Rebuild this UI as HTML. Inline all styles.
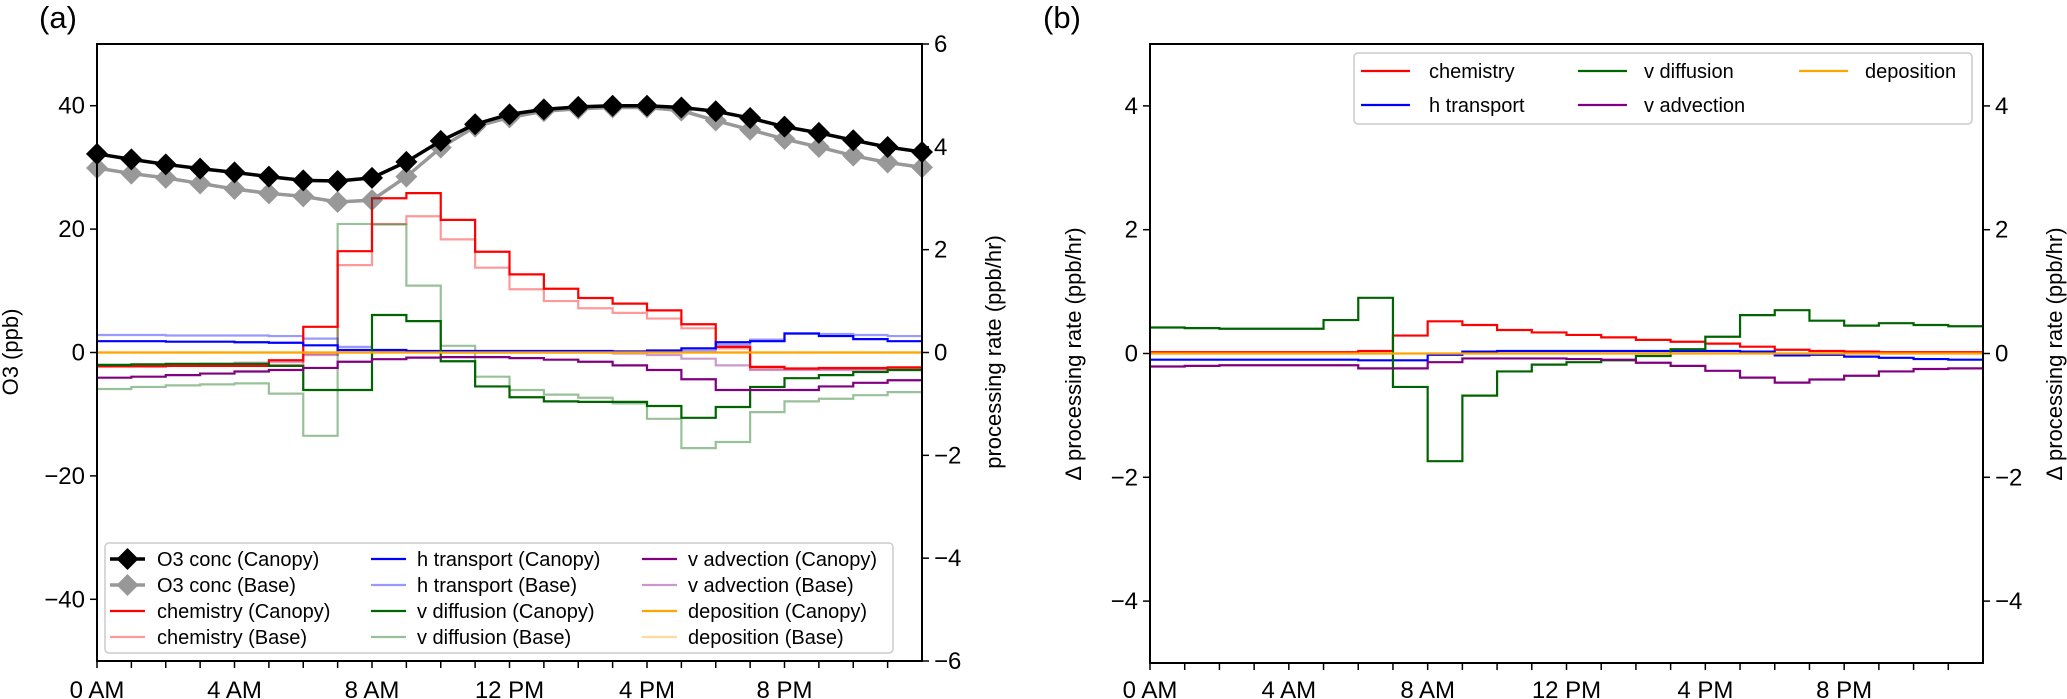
<!DOCTYPE html>
<html><head><meta charset="utf-8"><style>
html,body{margin:0;padding:0;background:#fff;}
svg{display:block;font-family:"Liberation Sans","DejaVu Sans",sans-serif;}
</style></head><body>
<svg id="fig" width="2067" height="699" viewBox="0 0 2067 699" xmlns="http://www.w3.org/2000/svg"></svg>
<script>
// ---------- Data ----------
const hours = [0,1,2,3,4,5,6,7,8,9,10,11,12,13,14,15,16,17,18,19,20,21,22,23,24];
const xTickLabels = ["0 AM","4 AM","8 AM","12 PM","4 PM","8 PM"];
const leftTicksA = [-40,-20,0,20,40];
const rightTicksA = [-6,-4,-2,0,2,4,6];
const ticksB = [-4,-2,0,2,4];

const o3Canopy = [32.2,31.3,30.5,29.8,29.2,28.5,27.9,27.8,28.3,30.9,34.3,37.0,38.6,39.4,39.8,40.0,40.0,39.7,39.1,38.0,36.6,35.6,34.4,33.3,32.5];
const o3Base   = [29.9,29.0,28.3,27.4,26.5,25.8,25.3,24.4,24.7,28.5,33.2,36.6,38.1,39.1,39.5,39.7,39.7,39.2,37.6,36.1,34.6,33.3,31.9,30.8,30.0];

const chemCanopy = [-0.27,-0.27,-0.26,-0.26,-0.26,-0.15,0.50,1.97,3.0,3.1,2.58,1.96,1.52,1.24,1.06,0.95,0.82,0.55,0.11,-0.28,-0.31,-0.30,-0.30,-0.29];
const chemBase   = [-0.26,-0.26,-0.25,-0.25,-0.25,-0.24,-0.02,1.7,2.5,2.65,2.2,1.65,1.23,1.0,0.86,0.77,0.66,0.47,0.08,-0.31,-0.32,-0.32,-0.32,-0.32];
const htCanopy = [0.22,0.22,0.21,0.21,0.2,0.19,0.14,0.05,0.05,0.03,0.03,0.03,0.03,0.03,0.03,0.02,0.04,0.08,0.2,0.22,0.37,0.32,0.26,0.22];
const htBase   = [0.34,0.34,0.33,0.33,0.33,0.32,0.27,0.11,0.03,0.02,0.02,0.02,0.02,0.02,0.02,0.02,0.02,0.03,0.15,0.25,0.37,0.36,0.34,0.32];
const vdCanopy = [-0.24,-0.23,-0.22,-0.22,-0.22,-0.26,-0.73,-0.73,0.73,0.61,-0.17,-0.66,-0.87,-0.95,-0.96,-0.96,-1.04,-1.27,-1.06,-0.67,-0.5,-0.44,-0.38,-0.34];
const vdBase   = [-0.71,-0.67,-0.64,-0.62,-0.6,-0.8,-1.62,2.5,2.49,1.3,0.13,-0.47,-0.73,-0.82,-0.88,-0.99,-1.29,-1.86,-1.74,-1.16,-0.95,-0.9,-0.83,-0.77];
const vaCanopy = [-0.49,-0.47,-0.44,-0.41,-0.37,-0.34,-0.3,-0.18,-0.13,-0.1,-0.09,-0.09,-0.11,-0.14,-0.18,-0.25,-0.34,-0.52,-0.73,-0.73,-0.73,-0.66,-0.59,-0.54];
const vaBase   = [-0.27,-0.25,-0.24,-0.22,-0.2,-0.18,-0.05,0.03,0.02,0.01,0.0,0.0,0.0,0.0,0.0,-0.02,-0.05,-0.12,-0.25,-0.34,-0.34,-0.34,-0.34,-0.34];
const depCanopy = [0,0,0,0,0,0,0,0,0,0,0,0,0,0,0,0,0,0,0,0,0,0,0,0];
const depBase   = [0,0,0,0,0,0,0,0,0,0,0,0,0,0,0,0,0,0,0,0,0,0,0,0];

const dChem = [0.02,0.02,0.02,0.02,0.02,0.02,0.04,0.29,0.52,0.46,0.38,0.34,0.30,0.26,0.22,0.19,0.16,0.11,0.06,0.04,0.03,0.02,0.02,0.02];
const dHt   = [-0.1,-0.1,-0.1,-0.1,-0.1,-0.1,-0.11,-0.11,-0.02,0.03,0.04,0.04,0.04,0.04,0.04,0.04,0.04,0.03,-0.03,-0.02,-0.05,-0.07,-0.09,-0.1];
const dVd   = [0.42,0.41,0.40,0.40,0.40,0.54,0.9,-0.54,-1.74,-0.68,-0.29,-0.18,-0.14,-0.11,-0.04,0.07,0.27,0.62,0.7,0.53,0.45,0.49,0.46,0.44];
const dVa   = [-0.21,-0.2,-0.19,-0.19,-0.19,-0.19,-0.24,-0.24,-0.14,-0.08,-0.08,-0.08,-0.09,-0.1,-0.15,-0.2,-0.28,-0.39,-0.47,-0.42,-0.36,-0.29,-0.25,-0.24];
const dDep  = [0,0,0,0,0,0,0,0,0,0,0,0,0,0,0,0,0,0,0,0,0,0,0,0];

// ---------- Helpers ----------
const NS = "http://www.w3.org/2000/svg";
const svg = document.getElementById("fig");
function mk(tag, attrs, parent) {
  const e = document.createElementNS(NS, tag);
  for (const k in attrs) e.setAttribute(k, attrs[k]);
  (parent || svg).appendChild(e);
  return e;
}
function txt(s, attrs, parent) { const e = mk("text", attrs, parent); e.textContent = s; return e; }

const A = {x0:97, x1:922, y0:44, y1:661};
const B = {x0:1150, x1:1983, y0:44, y1:663};
const xA = h => A.x0 + (A.x1 - A.x0) * h / 24;
const xB = h => B.x0 + (B.x1 - B.x0) * h / 24;
const yAL = v => A.y0 + (A.y1 - A.y0) * (50 - v) / 100;
const yAR = v => A.y0 + (A.y1 - A.y0) * (6 - v) / 12;
const yB = v => B.y0 + (B.y1 - B.y0) * (5 - v) / 10;
const TF = 24, LF = 20, AF = 22;

function stepPath(vals, xf, yf) {
  let d = "";
  for (let i = 0; i < vals.length; i++) {
    const y = yf(vals[i]);
    d += (i === 0 ? "M" : "L") + xf(i) + "," + y + "L" + xf(i + 1) + "," + y;
  }
  return d;
}

// ---------- Panel A ----------
const gA = mk("g", {});



const steps = [
  [chemBase, "#ff0000", 0.4, "chemistry-base-line"],
  [htBase, "#0000ff", 0.4, "h-transport-base-line"],
  [vdBase, "#006400", 0.4, "v-diffusion-base-line"],
  [vaBase, "#800080", 0.4, "v-advection-base-line"],
  [depBase, "#ffa500", 0.4, "deposition-base-line"],
  [chemCanopy, "#ff0000", 1, "chemistry-canopy-line"],
  [htCanopy, "#0000ff", 1, "h-transport-canopy-line"],
  [vdCanopy, "#006400", 1, "v-diffusion-canopy-line"],
  [vaCanopy, "#800080", 1, "v-advection-canopy-line"],
  [depCanopy, "#ffa500", 1, "deposition-canopy-line"]
];
steps.forEach(s => {
  const p = mk("path", {d: stepPath(s[0], xA, yAR), fill: "none", stroke: s[1], "stroke-opacity": s[2], "stroke-width": 2.2}, gA);
  
  
});

function o3Series(vals, color, op, name) {
  const g = mk("g", {opacity: op}, gA);
  
  
  let d = "";
  vals.forEach((v, i) => { d += (i ? "L" : "M") + xA(hours[i]) + "," + yAL(v); });
  mk("path", {d: d, fill: "none", stroke: color, "stroke-width": 3.5}, g);
  vals.forEach((v, i) => {
    const cx = xA(hours[i]), cy = yAL(v), r = 11;
    const m = mk("path", {d: `M${cx},${cy - r}L${cx + r},${cy}L${cx},${cy + r}L${cx - r},${cy}Z`, fill: color}, g);
    
    
  });
}
o3Series(o3Base, "#444", 0.55, "o3-base-series");
o3Series(o3Canopy, "#000", 1, "o3-canopy-series");

const frA = mk("rect", {x: A.x0, y: A.y0, width: A.x1 - A.x0, height: A.y1 - A.y0, fill: "none", stroke: "#000", "stroke-width": 2}, gA);



for (let h = 0; h <= 23; h++) {
  mk("line", {x1: xA(h), x2: xA(h), y1: A.y1, y2: A.y1 + 7, stroke: "#000", "stroke-width": 1.5}, gA);
}
xTickLabels.forEach((s, i) => {
  const t = txt(s, {x: xA(i * 4), y: 698, "font-size": TF, "text-anchor": "middle"}, gA);
  
  
});
leftTicksA.forEach(v => {
  mk("line", {x1: A.x0 - 7, x2: A.x0, y1: yAL(v), y2: yAL(v), stroke: "#000", "stroke-width": 1.5}, gA);
  const t = txt(v < 0 ? "\u2212" + (-v) : String(v), {x: A.x0 - 12, y: yAL(v) + 8, "font-size": TF, "text-anchor": "end"}, gA);
  
  
});
rightTicksA.forEach(v => {
  mk("line", {x1: A.x1, x2: A.x1 + 7, y1: yAR(v), y2: yAR(v), stroke: "#000", "stroke-width": 1.5}, gA);
  const t = txt(v < 0 ? "\u2212" + (-v) : String(v), {x: A.x1 + 12, y: yAR(v) + 8, "font-size": TF}, gA);
  
  
});
const yl = txt("O3 (ppb)", {x: 0, y: 0, "font-size": AF, "text-anchor": "middle", transform: `translate(18,352) rotate(-90)`}, gA);


const yr = txt("processing rate (ppb/hr)", {x: 0, y: 0, "font-size": AF, "text-anchor": "middle", transform: `translate(1001,352) rotate(-90)`}, gA);


const la = txt("(a)", {x: 39, y: 28, "font-size": 31}, gA);



const legA = mk("g", {}, gA);


mk("rect", {x: 105, y: 543, width: 788, height: 110, rx: 4, fill: "#fff", "fill-opacity": 0.85, stroke: "#ccc", "stroke-width": 1.5}, legA);
const legItemsA = [
  ["O3 conc (Canopy)", "#000", 1, true], ["O3 conc (Base)", "#444", 0.55, true],
  ["chemistry (Canopy)", "#ff0000", 1], ["chemistry (Base)", "#ff0000", 0.4],
  ["h transport (Canopy)", "#0000ff", 1], ["h transport (Base)", "#0000ff", 0.4],
  ["v diffusion (Canopy)", "#006400", 1], ["v diffusion (Base)", "#006400", 0.4],
  ["v advection (Canopy)", "#800080", 1], ["v advection (Base)", "#800080", 0.4],
  ["deposition (Canopy)", "#ffa500", 1], ["deposition (Base)", "#ffa500", 0.4]
];
const colLX = [110, 371, 642], colTX = [157, 417, 688], rowY = [559, 585, 611, 637];
legItemsA.forEach((it, i) => {
  const c = Math.floor(i / 4), r = i % 4;
  const g = mk("g", {opacity: it[2]}, legA);
  
  
  const y = rowY[r];
  mk("line", {x1: colLX[c], x2: colLX[c] + 35, y1: y, y2: y, stroke: it[1], "stroke-width": it[3] ? 3.5 : 2.2}, g);
  if (it[3]) {
    const cx = colLX[c] + 17.5, rr = 11;
    mk("path", {d: `M${cx},${y - rr}L${cx + rr},${y}L${cx},${y + rr}L${cx - rr},${y}Z`, fill: it[1]}, g);
  }
  const t = txt(it[0], {x: colTX[c], y: y + 7, "font-size": LF, fill: "#000"}, legA);
  
  
});

// ---------- Panel B ----------
const gB = mk("g", {});


const stepsB = [
  [dChem, "#ff0000", "delta-chemistry-line"],
  [dHt, "#0000ff", "delta-h-transport-line"],
  [dVd, "#006400", "delta-v-diffusion-line"],
  [dVa, "#800080", "delta-v-advection-line"],
  [dDep, "#ffa500", "delta-deposition-line"]
];
stepsB.forEach(s => {
  const p = mk("path", {d: stepPath(s[0], xB, yB), fill: "none", stroke: s[1], "stroke-width": 2.2}, gB);
  
  
});
const frB = mk("rect", {x: B.x0, y: B.y0, width: B.x1 - B.x0, height: B.y1 - B.y0, fill: "none", stroke: "#000", "stroke-width": 2}, gB);


for (let h = 0; h <= 23; h++) {
  mk("line", {x1: xB(h), x2: xB(h), y1: B.y1, y2: B.y1 + 7, stroke: "#000", "stroke-width": 1.5}, gB);
}
xTickLabels.forEach((s, i) => {
  const t = txt(s, {x: xB(i * 4), y: 698, "font-size": TF, "text-anchor": "middle"}, gB);
  
  
});
ticksB.forEach(v => {
  const lab = v < 0 ? "\u2212" + (-v) : String(v);
  mk("line", {x1: B.x0 - 7, x2: B.x0, y1: yB(v), y2: yB(v), stroke: "#000", "stroke-width": 1.5}, gB);
  mk("line", {x1: B.x1, x2: B.x1 + 7, y1: yB(v), y2: yB(v), stroke: "#000", "stroke-width": 1.5}, gB);
  const t1 = txt(lab, {x: B.x0 - 12, y: yB(v) + 8, "font-size": TF, "text-anchor": "end"}, gB);
  
  
  const t2 = txt(lab, {x: B.x1 + 12, y: yB(v) + 8, "font-size": TF}, gB);
  
  
});
const ylb = txt("\u0394 processing rate (ppb/hr)", {x: 0, y: 0, "font-size": AF, "text-anchor": "middle", transform: `translate(1081,354) rotate(-90)`}, gB);


const yrb = txt("\u0394 processing rate (ppb/hr)", {x: 0, y: 0, "font-size": AF, "text-anchor": "middle", transform: `translate(2062,354) rotate(-90)`}, gB);


const lb = txt("(b)", {x: 1043, y: 28, "font-size": 31}, gB);



const legB = mk("g", {}, gB);


mk("rect", {x: 1354, y: 53, width: 618, height: 71, rx: 4, fill: "#fff", "fill-opacity": 0.85, stroke: "#ccc", "stroke-width": 1.5}, legB);
const legItemsB = [["chemistry", "#ff0000"], ["h transport", "#0000ff"], ["v diffusion", "#006400"], ["v advection", "#800080"], ["deposition", "#ffa500"]];
const colLXB = [1361, 1578, 1799], colTXB = [1429, 1644, 1865], rowYB = [71, 105];
legItemsB.forEach((it, i) => {
  const c = Math.floor(i / 2), r = i % 2;
  const g = mk("g", {}, legB);
  
  
  mk("line", {x1: colLXB[c], x2: colLXB[c] + 49, y1: rowYB[r], y2: rowYB[r], stroke: it[1], "stroke-width": 2.2}, g);
  const t = txt(it[0], {x: colTXB[c], y: rowYB[r] + 7, "font-size": LF}, g);
  
  
});
</script>
</body></html>
